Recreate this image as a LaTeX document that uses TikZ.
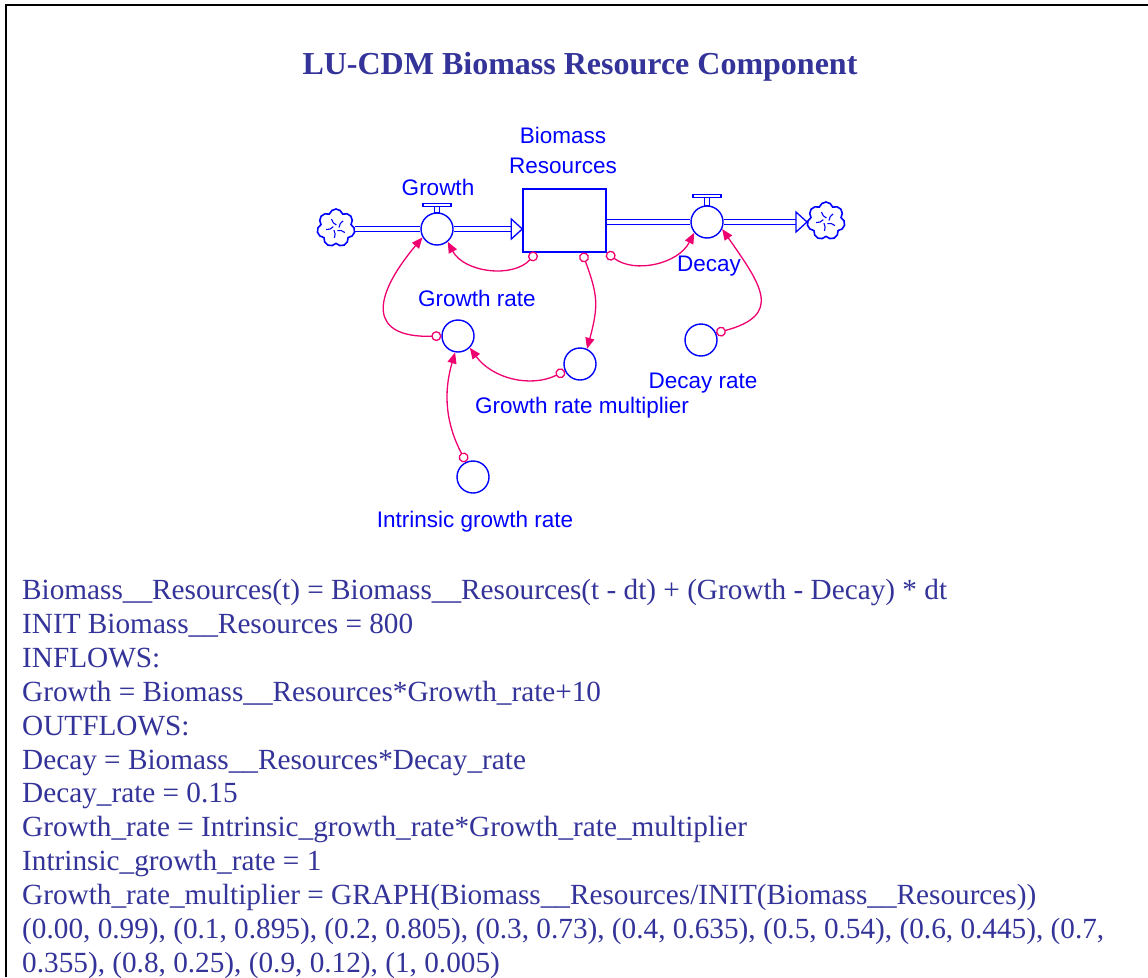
\documentclass[tikz,border=0pt]{standalone}
\usepackage{fontspec}
\setmainfont{Liberation Serif}
\newfontfamily\labelfont{Liberation Sans}
\usetikzlibrary{arrows.meta,shapes.symbols}
\definecolor{eqblue}{RGB}{51,51,153}
\definecolor{stblue}{RGB}{0,0,255}
\definecolor{linkred}{RGB}{238,0,112}

\begin{document}
\begin{tikzpicture}[x=1pt,y=1pt,
  lbl/.style={font=\labelfont\fontsize{22.5}{30}\selectfont, text=stblue, inner sep=0pt, anchor=base},
  conv/.style={circle, draw=stblue, line width=1.4pt, minimum size=32pt, inner sep=0pt},
  cloudy/.style={cloud, cloud puffs=7, aspect=1, draw=stblue, line width=1.6pt, minimum size=38pt, inner sep=0pt},
  pipe/.style={draw=stblue, double=white, double distance=3.2pt, line width=1.3pt},
  link/.style={draw=linkred, line width=1.3pt, {Circle[open,length=10pt,width=10pt]}-{Triangle[length=11pt,width=9pt]}},
  eq/.style={font=\fontsize{29.25}{34}\selectfont, text=eqblue, inner sep=0pt, anchor=base west}]
\useasboundingbox (0,0) rectangle (1148,-977);
\draw[line width=2pt] (1148,-5) -- (6,-5) -- (6,-977);
\node[font=\bfseries\fontsize{32}{38}\selectfont, text=eqblue, inner sep=0pt, anchor=base] (title) at (580,-74) {LU-CDM Biomass Resource Component};
% stock and flows
\node[draw=stblue, line width=1.4pt, minimum width=83pt, minimum height=63pt, inner sep=0pt] (stock) at (564.5,-220.5) {};
\node[conv] (growth) at (437,-229) {};
\node[conv] (decay) at (707,-222) {};
\node[cloudy] (srcL) at (336,-228) {};
\node[cloudy] (sinkR) at (826,-221) {};
\foreach \c in {srcL,sinkR}
  \foreach \a in {10,82,154,226,298}
    \draw[stblue, line width=1.1pt] ([shift={(\a:3)}]\c.center) to[bend left=25] ([shift={(\a+35:10)}]\c.center);
\draw[stblue, line width=1.1pt] ([xshift=-2.5pt]growth.north) rectangle ([xshift=2.5pt,yshift=6pt]growth.north);
\draw[stblue, line width=1.1pt] ([xshift=-14pt,yshift=6pt]growth.north) rectangle ([xshift=14pt,yshift=8.5pt]growth.north);
\draw[stblue, line width=1.1pt] ([xshift=-2.5pt]decay.north) rectangle ([xshift=2.5pt,yshift=8pt]decay.north);
\draw[stblue, line width=1.1pt] ([xshift=-14pt,yshift=8pt]decay.north) rectangle ([xshift=14pt,yshift=10.5pt]decay.north);
\coordinate (inTip) at (stock.west |- growth.east);
\coordinate (outTip) at (sinkR.west |- decay.east);
\draw[pipe] (srcL.east |- growth.west) -- (growth.west);
\draw[pipe] (growth.east) -- ([xshift=-11pt]inTip);
\draw[stblue, line width=1.3pt, fill=white] ([xshift=-11pt,yshift=10pt]inTip) -- (inTip) -- ([xshift=-11pt,yshift=-10pt]inTip) -- cycle;
\draw[pipe] (stock.east |- decay.west) -- (decay.west);
\draw[pipe] (decay.east) -- ([xshift=-11pt]outTip);
\draw[stblue, line width=1.3pt, fill=white] ([xshift=-11pt,yshift=10pt]outTip) -- (outTip) -- ([xshift=-11pt,yshift=-10pt]outTip) -- cycle;
% converters
\node[conv] (grate) at (458,-336) {};
\node[conv] (gmult) at (580,-364) {};
\node[conv] (drate) at (701,-340) {};
\node[conv] (igrate) at (473,-477) {};
% labels
\node[lbl] (stocklbla) at (563,-143) {Biomass};
\node[lbl] (stocklblb) at (563,-173) {Resources};
\node[lbl] (growthlbl) at (438,-195) {Growth};
\node[lbl] (decaylbl) at (709,-271) {Decay};
\node[lbl] (gratelbl) at (477,-306) {Growth rate};
\node[lbl] (gmultlbl) at (582,-413) {Growth rate multiplier};
\node[lbl] (dratelbl) at (703,-388) {Decay rate};
\node[lbl] (igratelbl) at (475,-527) {Intrinsic growth rate};
% connectors
\draw[link] ([xshift=14pt]stock.south west) to[bend left=55] (growth.-50);
\draw[link] (grate.180) .. controls +(-72,-2) and +(-52,-62) .. (growth.-150);
\draw[link] ([xshift=60pt]stock.south west) to[out=-70,in=75,looseness=1.2] (gmult.65);
\draw[link] (stock.south east) to[bend right=50] (decay.-140);
\draw[link] (drate.25) to[out=15,in=-55,looseness=1.7] (decay.-25);
\draw[link] (gmult.-155) to[bend left=40] (grate.-45);
\draw[link] (igrate.115) to[bend left=22] (grate.-100);
% equations
\node[eq] (eq1) at (22,-599) {Biomass\_\_Resources(t) = Biomass\_\_Resources(t - dt) + (Growth - Decay) * dt};
\node[eq] (eq2) at (22,-633) {INIT Biomass\_\_Resources = 800};
\node[eq] (eq3) at (22,-667) {INFLOWS:};
\node[eq] (eq4) at (22,-701) {Growth = Biomass\_\_Resources*Growth\_rate+10};
\node[eq] (eq5) at (22,-735) {OUTFLOWS:};
\node[eq] (eq6) at (22,-769) {Decay = Biomass\_\_Resources*Decay\_rate};
\node[eq] (eq7) at (22,-802) {Decay\_rate = 0.15};
\node[eq] (eq8) at (22,-836) {Growth\_rate = Intrinsic\_growth\_rate*Growth\_rate\_multiplier};
\node[eq] (eq9) at (22,-870) {Intrinsic\_growth\_rate = 1};
\node[eq] (eq10) at (22,-904) {Growth\_rate\_multiplier = GRAPH(Biomass\_\_Resources/INIT(Biomass\_\_Resources))};
\node[eq] (eq11) at (22,-938) {(0.00, 0.99), (0.1, 0.895), (0.2, 0.805), (0.3, 0.73), (0.4, 0.635), (0.5, 0.54), (0.6, 0.445), (0.7,};
\node[eq] (eq12) at (22,-972) {0.355), (0.8, 0.25), (0.9, 0.12), (1, 0.005)};
\end{tikzpicture}
\end{document}
